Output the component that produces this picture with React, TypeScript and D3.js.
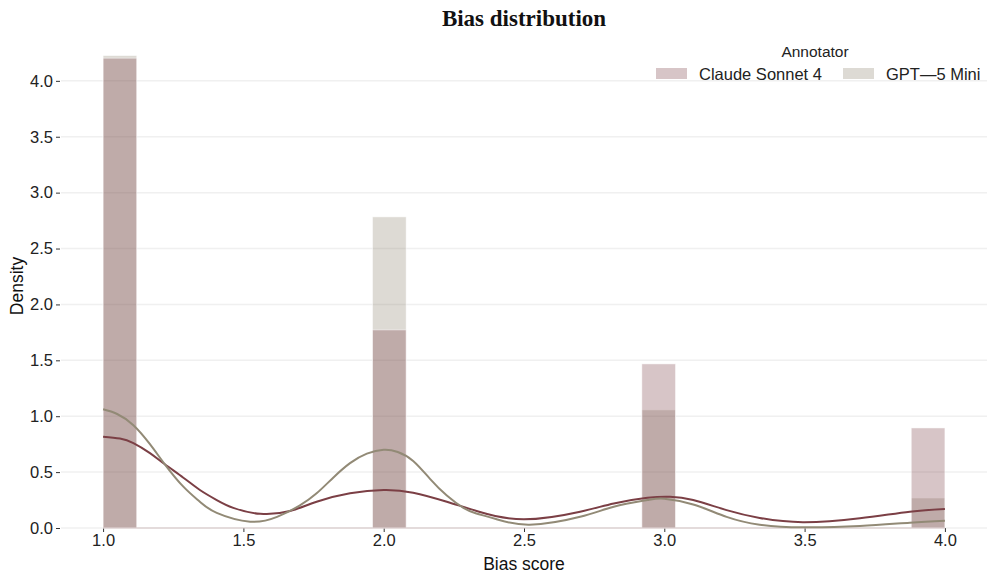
import { useEffect, useRef } from "react";
import * as d3 from "d3";

// histogram bins (left edges) and bin width, in bias-score units
const binStarts = [1.0, 1.96, 2.92, 3.88];
const binWidth = 0.12;

// density per bin
const claudeDensity = [4.203, 1.772, 1.468, 0.895];
const gptDensity = [4.226, 2.783, 1.056, 0.268];

// KDE curves
const claudeKde: [number, number][] = [
  [1.0, 0.817], [1.06, 0.8], [1.108, 0.76], [1.167, 0.67], [1.22, 0.57], [1.286, 0.45],
  [1.345, 0.34], [1.405, 0.25], [1.464, 0.18], [1.56, 0.127], [1.666, 0.152],
  [1.761, 0.235], [1.88, 0.31], [2.0, 0.34], [2.105, 0.316], [2.225, 0.235],
  [2.34, 0.146], [2.5, 0.078], [2.7, 0.146], [2.82, 0.22], [2.94, 0.27],
  [3.02, 0.28], [3.103, 0.25], [3.222, 0.16], [3.34, 0.09], [3.494, 0.052],
  [3.697, 0.087], [3.875, 0.146], [4.0, 0.17],
];
const gptKde: [number, number][] = [
  [1.0, 1.062], [1.05, 1.02], [1.108, 0.92], [1.167, 0.75], [1.22, 0.57], [1.286, 0.37],
  [1.345, 0.235], [1.405, 0.135], [1.524, 0.057], [1.62, 0.1], [1.7, 0.2], [1.761, 0.31],
  [1.82, 0.45], [1.88, 0.58], [1.94, 0.665], [2.0, 0.7], [2.05, 0.68], [2.105, 0.6],
  [2.165, 0.44], [2.225, 0.29], [2.284, 0.18], [2.33, 0.13], [2.4, 0.08],
  [2.52, 0.03], [2.7, 0.1], [2.82, 0.19], [2.94, 0.25], [3.0, 0.262],
  [3.103, 0.21], [3.222, 0.1], [3.34, 0.03], [3.494, 0.006], [3.697, 0.018],
  [3.875, 0.048], [4.0, 0.065],
];

const xTicks = [1.0, 1.5, 2.0, 2.5, 3.0, 3.5, 4.0];
const yTicks = [0, 0.5, 1.0, 1.5, 2.0, 2.5, 3.0, 3.5, 4.0];

const series = [
  { name: "Claude Sonnet 4", color: "#7b3f45", lineColor: "#7b3f45", bars: claudeDensity, kde: claudeKde },
  { name: "GPT\u20145 Mini", color: "#8f8672", lineColor: "#928a76", bars: gptDensity, kde: gptKde },
];

const W = 997;
const H = 583;
const FONT = "'Liberation Sans', Arial, sans-serif";

export default function App() {
  const svgRef = useRef<SVGSVGElement>(null);

  useEffect(() => {
    document.body.style.margin = "0";
    const svg = d3.select(svgRef.current!);
    svg.selectAll("*").remove();

    const left = 61;
    const right = 987;
    const top = 32;
    const bottom = 528;

    const x = d3.scaleLinear().domain([0.85, 4.15]).range([left, right]);
    const y = d3.scaleLinear().domain([0, 4.437]).range([bottom, top]);

    svg.append("rect").attr("width", W).attr("height", H).attr("fill", "#ffffff");

    // gridlines
    svg
      .append("g")
      .selectAll("line")
      .data(yTicks)
      .join("line")
      .attr("x1", left)
      .attr("x2", right)
      .attr("y1", (d) => y(d))
      .attr("y2", (d) => y(d))
      .attr("stroke", "#f0f0f0")
      .attr("stroke-width", 1.5);

    // y axis
    const ya = svg
      .append("g")
      .attr("transform", `translate(${left - 1},0)`)
      .call(d3.axisLeft(y).tickValues(yTicks).tickSize(4).tickPadding(3).tickFormat(d3.format(".1f")));
    ya.select(".domain").remove();
    ya.selectAll("line").attr("stroke", "#333");
    ya.selectAll("text").style("font-family", FONT).style("font-size", "16.5px").attr("fill", "#222");

    // x axis
    const xa = svg
      .append("g")
      .attr("transform", `translate(0,${bottom})`)
      .call(d3.axisBottom(x).tickValues(xTicks).tickSize(4).tickPadding(2).tickFormat(d3.format(".1f")));
    xa.select(".domain").remove();
    xa.selectAll("line").attr("stroke", "#333");
    xa.selectAll("text").style("font-family", FONT).style("font-size", "16.5px").attr("fill", "#222");

    // bars (GPT first, Claude layered on top)
    [series[1], series[0]].forEach((s) => {
      svg
        .append("g")
        .selectAll("rect")
        .data(s.bars)
        .join("rect")
        .attr("x", (_, i) => x(binStarts[i]))
        .attr("width", (_, i) => x(binStarts[i] + binWidth) - x(binStarts[i]))
        .attr("y", (d) => y(d))
        .attr("height", (d) => y(0) - y(d))
        .attr("fill", s.color)
        .attr("fill-opacity", 0.3)
        .attr("stroke", "#ffffff")
        .attr("stroke-opacity", 0.6)
        .attr("stroke-width", 0.8);
    });

    // baseline left by empty bins
    svg
      .append("line")
      .attr("x1", x(1))
      .attr("x2", x(4))
      .attr("y1", y(0))
      .attr("y2", y(0))
      .attr("stroke", "#d3c2c2")
      .attr("stroke-width", 1);

    // KDE lines
    const line = d3
      .line<[number, number]>()
      .x((d) => x(d[0]))
      .y((d) => y(d[1]))
      .curve(d3.curveNatural);
    series.forEach((s) => {
      svg
        .append("path")
        .datum(s.kde)
        .attr("fill", "none")
        .attr("stroke", s.lineColor)
        .attr("stroke-width", 2)
        .attr("d", line);
    });

    // title + axis labels
    svg
      .append("text")
      .attr("x", (left + right) / 2)
      .attr("y", 26)
      .attr("text-anchor", "middle")
      .style("font-family", "'Liberation Serif', 'Times New Roman', serif")
      .style("font-weight", "700")
      .style("font-size", "23px")
      .attr("fill", "#111")
      .text("Bias distribution");
    svg
      .append("text")
      .attr("x", (left + right) / 2)
      .attr("y", 570)
      .attr("text-anchor", "middle")
      .style("font-family", FONT)
      .style("font-size", "17.5px")
      .attr("fill", "#111")
      .text("Bias score");
    svg
      .append("text")
      .attr("transform", `translate(23,${(top + bottom) / 2 + 6}) rotate(-90)`)
      .attr("text-anchor", "middle")
      .style("font-family", FONT)
      .style("font-size", "17.5px")
      .attr("fill", "#111")
      .text("Density");

    // legend
    const legend = svg.append("g");
    legend
      .append("text")
      .attr("x", 815)
      .attr("y", 57)
      .attr("text-anchor", "middle")
      .style("font-family", FONT)
      .style("font-size", "15.5px")
      .attr("fill", "#222")
      .text("Annotator");
    const legendX = [656, 843];
    series.forEach((s, i) => {
      legend
        .append("rect")
        .attr("x", legendX[i])
        .attr("y", 68)
        .attr("width", 31)
        .attr("height", 11)
        .attr("fill", s.color)
        .attr("fill-opacity", 0.3);
      legend
        .append("text")
        .attr("x", legendX[i] + 43)
        .attr("y", 80)
        .style("font-family", FONT)
        .style("font-size", "16.5px")
        .attr("fill", "#222")
        .text(s.name);
    });
  }, []);

  return <svg ref={svgRef} width={W} height={H} style={{ display: "block" }} />;
}
